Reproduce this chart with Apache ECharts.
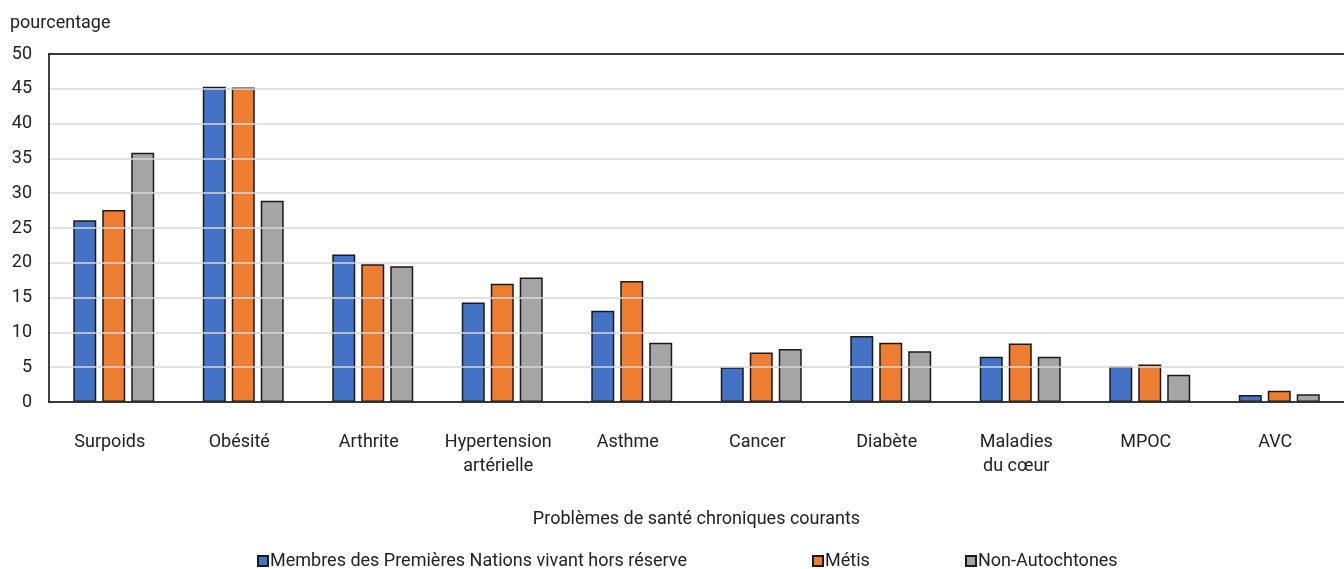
<!DOCTYPE html>
<html>
<head>
<meta charset="utf-8">
<script src="https://cdn.jsdelivr.net/npm/echarts@6/dist/echarts.min.js"></script>
<style>
html,body{margin:0;padding:0;background:#fff;}
#c{width:1344px;height:569px;}
</style>
</head>
<body>
<div id="c"></div>
<script>
const categories = ["Surpoids","Obésité","Arthrite","Hypertension\nartérielle","Asthme","Cancer","Diabète","Maladies\ndu cœur","MPOC","AVC"];
const seriesNames = ["Membres des Premières Nations vivant hors réserve","Métis","Non-Autochtones"];
const premieresNations = [26.1,45.3,21.2,14.3,13.1,5.0,9.5,6.5,5.1,1.0];
const metis = [27.6,45.2,19.8,17.0,17.4,7.1,8.5,8.4,5.4,1.6];
const nonAutochtones = [35.8,28.9,19.5,17.9,8.5,7.6,7.3,6.5,3.9,1.1];
const yTicks = [0,5,10,15,20,25,30,35,40,45,50];
const yAxisTitle = "pourcentage";
const xAxisTitle = "Problèmes de santé chroniques courants";

const colors = ["#4472C4","#ED7D31","#A5A5A5"];
const FONT = "Roboto";
const TXT = "#222222";

const chart = echarts.init(document.getElementById('c'), null, {renderer:'canvas'});
const values = [premieresNations, metis, nonAutochtones];
const legendLefts = [257, 812, 965];

const option = {
  animation: false,
  backgroundColor: '#ffffff',
  textStyle: {fontFamily: FONT},
  title: {
    text: yAxisTitle, left: 10, top: 14, padding: 0,
    textStyle: {fontFamily: FONT, fontSize: 18, fontWeight: 'normal', color: TXT}
  },
  legend: seriesNames.map((n, i) => ({
    data: [n], left: legendLefts[i], top: 552, padding: 0,
    itemWidth: 10, itemHeight: 10, icon: 'rect',
    textStyle: {fontFamily: FONT, fontSize: 18, color: TXT, padding: [0,0,0,-3]},
    selectedMode: false
  })),
  grid: {left: 49, right: -3, top: 54, bottom: 167, containLabel: false},
  xAxis: [{
    type: 'category', data: categories, position: 'bottom',
    axisLine: {show: true, lineStyle: {color: '#000', width: 1.5}},
    axisTick: {show: false},
    axisLabel: {interval: 0, fontFamily: FONT, fontSize: 18, color: TXT, lineHeight: 24, margin: 28, padding: [0,8,0,0]},
    name: xAxisTitle, nameLocation: 'middle', nameGap: 108,
    nameTextStyle: {fontFamily: FONT, fontSize: 18, color: TXT},
    z: 20
  },{
    type: 'category', data: categories, position: 'top',
    axisLine: {show: true, lineStyle: {color: '#000', width: 1.5}},
    axisTick: {show: false}, axisLabel: {show: false}, z: 20
  }],
  yAxis: {
    type: 'value', min: 0, max: 50, interval: 5,
    axisLine: {show: true, lineStyle: {color: '#000', width: 1.5}},
    axisTick: {show: false},
    axisLabel: {fontFamily: FONT, fontSize: 18, color: TXT, margin: 17,
      formatter: v => yTicks.includes(v) ? String(v) : ''},
    splitLine: {show: true, lineStyle: {color: '#d9d9d9', width: 1.5}},
    z: 5
  },
  series: seriesNames.map((n, i) => ({
    name: n, type: 'bar', data: values[i], xAxisIndex: 0,
    barWidth: 23, barGap: '26%',
    itemStyle: {color: colors[i], borderColor: '#1a1a1a', borderWidth: 1.5}
  }))
};
chart.setOption(option);
</script>
</body>
</html>
